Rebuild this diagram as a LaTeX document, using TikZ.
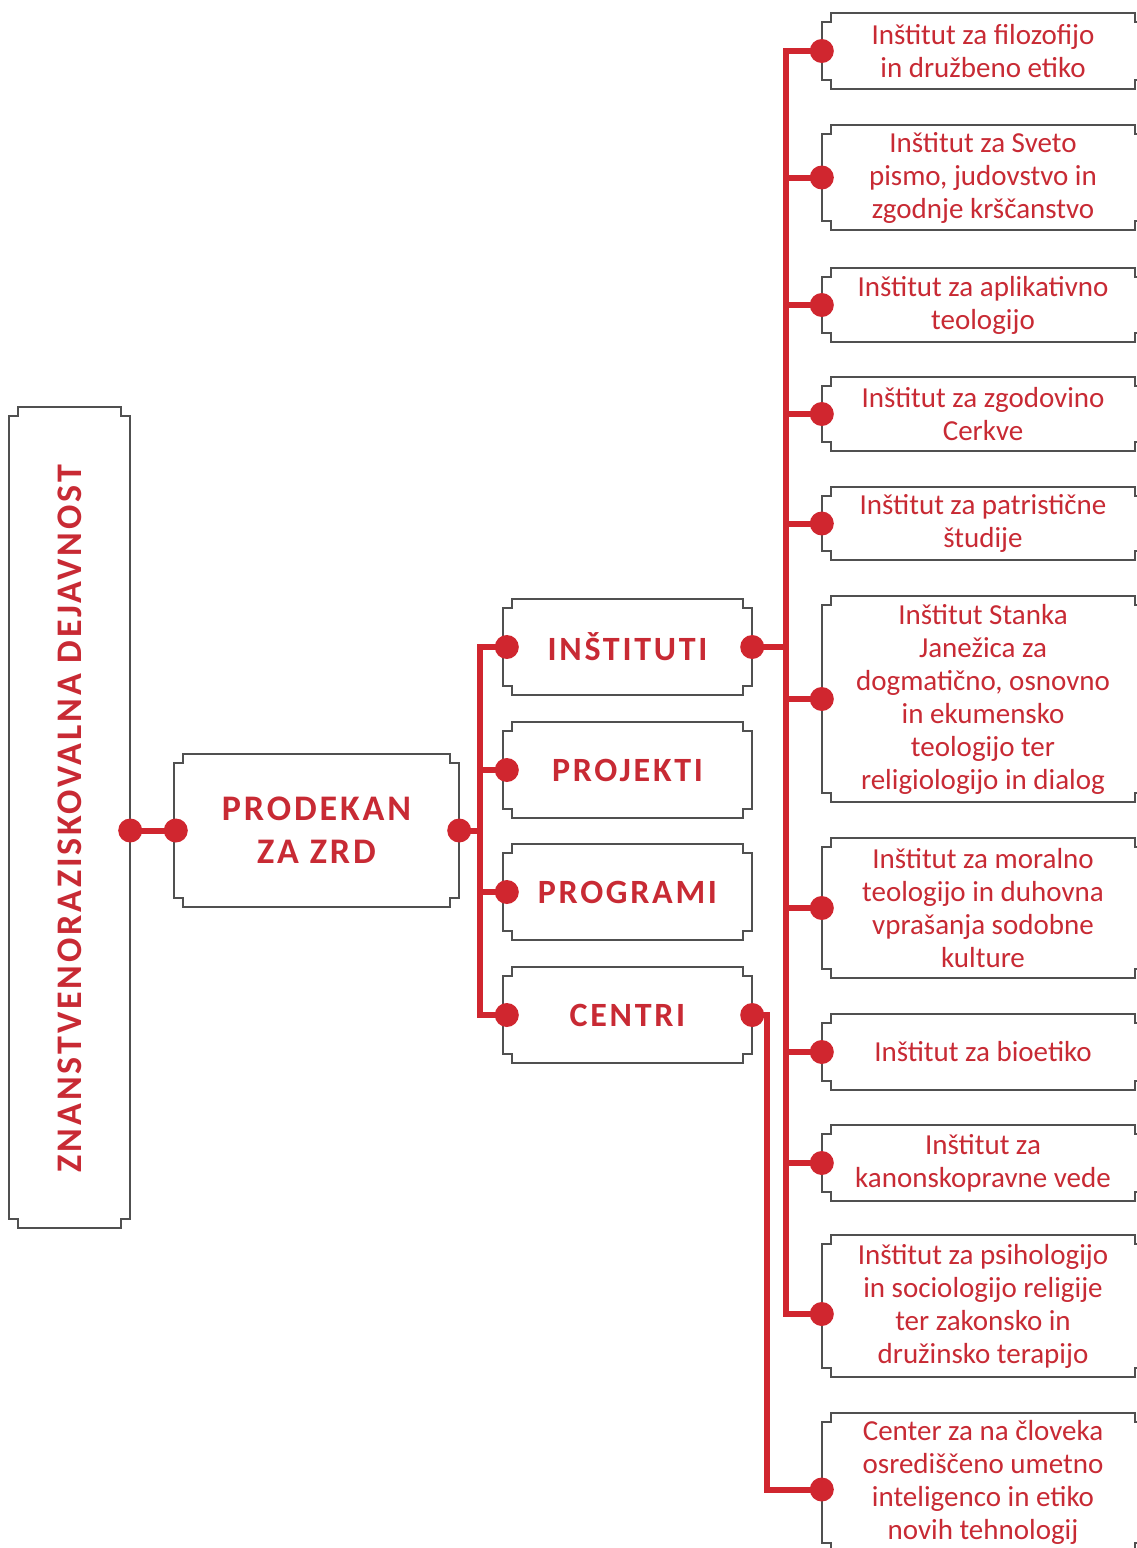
\documentclass[tikz,border=0pt]{standalone}
\usepackage{fontspec}
\setmainfont{Carlito}
\newfontfamily\hdfont[LetterSpace=8]{Carlito}
\definecolor{zred}{HTML}{D0262F}
\definecolor{ztxt}{HTML}{C82A34}
\definecolor{zgray}{HTML}{505050}
\newcommand\nd{9pt}
\newcommand\nbox[1]{%
 \draw[boxline] ([xshift=\nd]#1.north west) -- ([xshift=-\nd]#1.north east)
  -- ([xshift=-\nd,yshift=-\nd]#1.north east) -- ([yshift=-\nd]#1.north east)
  -- ([yshift=\nd]#1.south east) -- ([xshift=-\nd,yshift=\nd]#1.south east)
  -- ([xshift=-\nd]#1.south east) -- ([xshift=\nd]#1.south west)
  -- ([xshift=\nd,yshift=\nd]#1.south west) -- ([yshift=\nd]#1.south west)
  -- ([yshift=-\nd]#1.north west) -- ([xshift=\nd,yshift=-\nd]#1.north west)
  -- cycle;}
\begin{document}
\begin{tikzpicture}[x=1pt,y=-1pt,
 bx/.style={rectangle,inner sep=0pt,align=center,text=ztxt},
 hd/.style={bx,font=\hdfont\bfseries\fontsize{34}{43}\selectfont},
 mid/.style={hd,minimum width=249pt,minimum height=96pt},
 rt/.style={bx,font=\fontsize{29}{33}\selectfont,minimum width=322pt},
 conn/.style={draw=zred,line width=6pt},
 boxline/.style={draw=zgray,line width=1.7pt},
 zdot/.style={fill=zred}]
\useasboundingbox (0,0) rectangle (1137,1548);
\clip (0,0) rectangle (1137,1548);
\fill[white] (0,0) rectangle (1137,1548);

% left box
\node[bx,minimum width=121pt,minimum height=821pt] (L) at (69.5,817.5) {};
\node[hd,rotate=90,font=\hdfont\bfseries\fontsize{36}{43}\selectfont] (Lt) at (70,818.5) {ZNANSTVENORAZISKOVALNA DEJAVNOST};
% prodekan
\node[hd,font=\hdfont\bfseries\fontsize{36}{43}\selectfont,minimum width=285pt,minimum height=153pt] (P) at (316.5,830.5) {PRODEKAN\\ZA ZRD};
% middle
\node[mid] (I)  at (627.5,647) {INŠTITUTI};
\node[mid] (Pj) at (627.5,770) {PROJEKTI};
\node[mid] (Pg) at (627.5,892) {PROGRAMI};
\node[mid] (C)  at (627.5,1015) {CENTRI};
% right
\node[rt,minimum height=76pt]  (r1)  at (983,51)    {Inštitut za filozofijo\\in družbeno etiko};
\node[rt,minimum height=105pt] (r2)  at (983,177.5) {Inštitut za Sveto\\pismo, judovstvo in\\zgodnje krščanstvo};
\node[rt,minimum height=74pt]  (r3)  at (983,305)   {Inštitut za aplikativno\\teologijo};
\node[rt,minimum height=74pt]  (r4)  at (983,414)   {Inštitut za zgodovino\\Cerkve};
\node[rt,minimum height=73pt]  (r5)  at (983,523.5) {Inštitut za patristične\\študije};
\node[rt,minimum height=206pt] (r6)  at (983,699)   {Inštitut Stanka\\Janežica za\\dogmatično, osnovno\\in ekumensko\\teologijo ter\\religiologijo in dialog};
\node[rt,minimum height=140pt] (r7)  at (983,908)   {Inštitut za moralno\\teologijo in duhovna\\vprašanja sodobne\\kulture};
\node[rt,minimum height=76pt]  (r8)  at (983,1052)  {Inštitut za bioetiko};
\node[rt,minimum height=76pt]  (r9)  at (983,1163)  {Inštitut za\\kanonskopravne vede};
\node[rt,minimum height=142pt] (r10) at (983,1306)  {Inštitut za psihologijo\\in sociologijo religije\\ter zakonsko in\\družinsko terapijo};
\node[rt,minimum height=139pt] (r11) at (983,1482.5){Center za na človeka\\osrediščeno umetno\\inteligenco in etiko\\novih tehnologij};

\foreach \b in {L,P,I,Pj,Pg,C,r1,r2,r3,r4,r5,r6,r7,r8,r9,r10,r11}{\nbox{\b}}

% connection points
\coordinate (Le) at (L.east |- P.west);
\coordinate (b1) at (480,830.5);
\coordinate (b2) at (786,647);
\coordinate (r10d) at ([yshift=-8pt]r10.west);
\coordinate (r11d) at ([yshift=-7pt]r11.west);
\coordinate (c1) at (767,1015);
\foreach \m in {I,Pj,Pg,C}{\coordinate (\m w) at ([xshift=4pt]\m.west);}
\coordinate (Pw) at ([xshift=2pt]P.west);

% connectors
\draw[conn] (Le) -- (Pw);
\draw[conn] (P.east) -- (b1);
\foreach \m in {I,Pj,Pg,C}{\draw[conn] (\m w) -| (b1);}
\draw[conn] (I.east) -- (b2);
\foreach \r in {r1,r2,r3,r4,r5,r6,r7,r8,r9}{\draw[conn] (\r.west) -| (b2);}
\draw[conn] (r10d) -| (b2);
\draw[conn] (C.east) -- (c1) |- (r11d);

% dots
\foreach \p in {Le,Pw,P.east,Iw,Pjw,Pgw,Cw,I.east,C.east,r1.west,r2.west,r3.west,r4.west,r5.west,r6.west,r7.west,r8.west,r9.west,r10d,r11d}{\fill[zdot] (\p) circle[radius=12pt];}
\end{tikzpicture}
\end{document}
